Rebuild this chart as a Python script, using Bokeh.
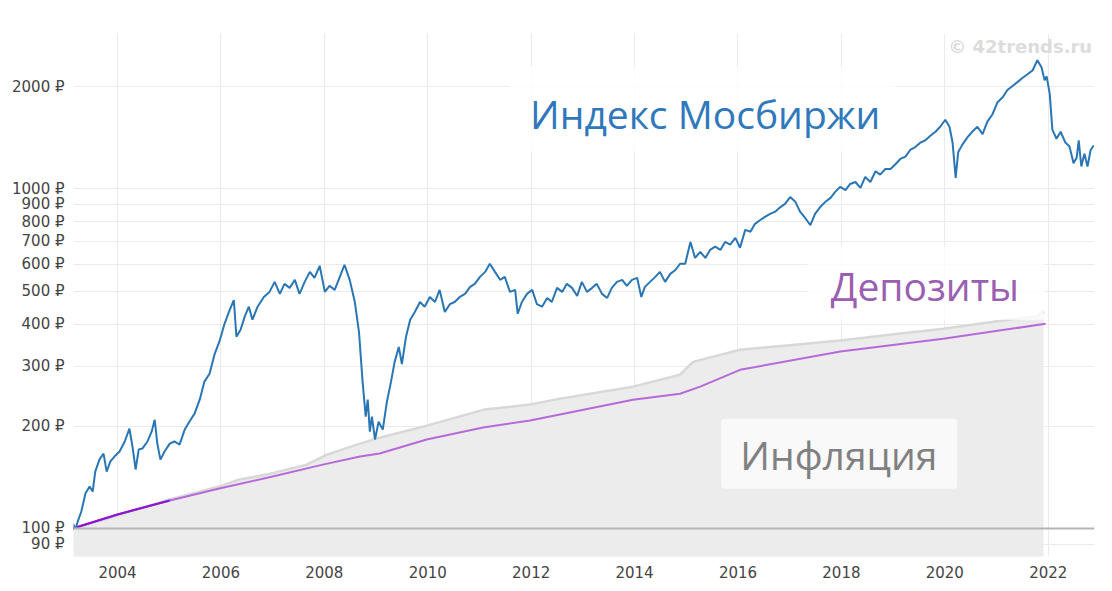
from bokeh.plotting import figure
from bokeh.models import (FixedTicker, CustomJSTickFormatter, Span, BoxAnnotation,
                          Label, Range1d)
from bokeh.embed import file_html
from bokeh.resources import INLINE

# ---- data ----
moex_years = [2003.13, 2003.19, 2003.23, 2003.30, 2003.38, 2003.46, 2003.52, 2003.57, 2003.65, 2003.73,
              2003.79, 2003.86, 2003.94, 2004.04, 2004.14, 2004.23, 2004.29, 2004.35, 2004.41, 2004.48,
              2004.58, 2004.66, 2004.72, 2004.77, 2004.83, 2004.91, 2005.01, 2005.10, 2005.20, 2005.30,
              2005.39, 2005.49, 2005.59, 2005.68, 2005.78, 2005.88, 2005.97, 2006.07, 2006.17, 2006.25,
              2006.30, 2006.38, 2006.46, 2006.54, 2006.61, 2006.71, 2006.83, 2006.94, 2007.04, 2007.14,
              2007.23, 2007.33, 2007.43, 2007.52, 2007.62, 2007.72, 2007.81, 2007.91, 2008.01, 2008.10,
              2008.20, 2008.30, 2008.39, 2008.49, 2008.59, 2008.67, 2008.74, 2008.80, 2008.84, 2008.88,
              2008.92, 2008.98, 2009.05, 2009.13, 2009.21, 2009.29, 2009.36, 2009.44, 2009.50, 2009.58,
              2009.66, 2009.75, 2009.85, 2009.94, 2010.04, 2010.14, 2010.23, 2010.33, 2010.43, 2010.52,
              2010.62, 2010.72, 2010.82, 2010.91, 2011.01, 2011.11, 2011.20, 2011.30, 2011.40, 2011.49,
              2011.59, 2011.69, 2011.74, 2011.82, 2011.92, 2012.02, 2012.11, 2012.21, 2012.31, 2012.40,
              2012.50, 2012.60, 2012.69, 2012.79, 2012.89, 2012.98, 2013.08, 2013.18, 2013.27, 2013.37,
              2013.47, 2013.56, 2013.66, 2013.76, 2013.85, 2013.95, 2014.05, 2014.13, 2014.20, 2014.30,
              2014.40, 2014.49, 2014.59, 2014.69, 2014.79, 2014.88, 2014.98, 2015.08, 2015.17, 2015.27,
              2015.37, 2015.46, 2015.56, 2015.66, 2015.75, 2015.85, 2015.95, 2016.04, 2016.14, 2016.24,
              2016.33, 2016.43, 2016.53, 2016.62, 2016.72, 2016.82, 2016.91, 2017.01, 2017.11, 2017.20,
              2017.30, 2017.40, 2017.49, 2017.59, 2017.69, 2017.79, 2017.88, 2017.98, 2018.08, 2018.17,
              2018.27, 2018.37, 2018.46, 2018.56, 2018.66, 2018.75, 2018.85, 2018.95, 2019.04, 2019.14,
              2019.24, 2019.33, 2019.43, 2019.53, 2019.62, 2019.72, 2019.82, 2019.91, 2020.01, 2020.09,
              2020.15, 2020.21, 2020.26, 2020.34, 2020.44, 2020.53, 2020.63, 2020.73, 2020.82, 2020.92,
              2021.02, 2021.12, 2021.21, 2021.31, 2021.41, 2021.50, 2021.60, 2021.70, 2021.79, 2021.87,
              2021.93, 2021.97, 2022.03, 2022.08, 2022.16, 2022.24, 2022.33, 2022.41, 2022.49, 2022.55,
              2022.59, 2022.64, 2022.70, 2022.76, 2022.82, 2022.88]
moex_values = [103.4, 100.0, 104.8, 112.2, 126.8, 132.9, 128.5, 147.1, 159.5, 166.2,
               147.1, 157.3, 162.9, 168.5, 180.4, 196.8, 174.3, 149.2, 170.8, 171.9,
               180.4, 192.8, 209.0, 177.8, 159.5, 168.5, 177.8, 180.4, 176.6, 195.5,
               206.3, 217.9, 239.5, 270.6, 285.6, 326.9, 354.8, 400.6, 440.2, 470.7,
               367.0, 384.9, 420.6, 449.8, 412.0, 449.8, 480.6, 497.4, 532.4, 490.7,
               525.2, 511.2, 539.8, 490.7, 532.4, 569.6, 547.2, 593.7, 497.4, 518.3,
               504.3, 550.6, 597.9, 539.8, 464.4, 379.5, 270.6, 213.4, 239.5, 192.8,
               213.4, 182.9, 206.3, 195.5, 236.1, 270.6, 309.5, 342.5, 305.0, 367.0,
               412.0, 434.0, 464.4, 449.8, 480.6, 464.4, 504.3, 434.0, 458.0, 464.4,
               480.6, 490.7, 514.7, 525.2, 550.6, 569.6, 602.0, 569.6, 539.8, 550.6,
               497.4, 504.3, 428.8, 464.4, 490.7, 504.3, 458.0, 449.8, 477.4, 464.4,
               511.2, 497.4, 525.2, 511.2, 484.0, 532.4, 497.4, 511.2, 525.2, 490.7,
               477.4, 511.2, 532.4, 539.8, 518.3, 539.8, 547.2, 480.6, 514.7, 532.4,
               550.6, 569.6, 532.4, 562.0, 576.9, 602.0, 602.0, 698.0, 626.0, 652.4,
               626.0, 661.3, 676.0, 661.3, 698.0, 685.0, 717.5, 671.0, 757.5, 748.0,
               789.0, 810.0, 829.0, 844.0, 857.0, 884.0, 903.0, 946.0, 916.0, 857.0,
               821.0, 782.0, 844.0, 884.0, 916.0, 941.0, 980.0, 1014.0, 992.0, 1034.0,
               1048.0, 1007.0, 1085.0, 1048.0, 1127.0, 1102.0, 1144.0, 1144.0, 1180.0, 1225.0,
               1245.0, 1302.0, 1328.0, 1370.0, 1389.0, 1433.0, 1473.0, 1524.0, 1598.0, 1524.0,
               1370.0, 1077.0, 1285.0, 1350.0, 1420.0, 1473.0, 1524.0, 1450.0, 1575.0, 1656.0,
               1800.0, 1862.0, 1955.0, 2010.0, 2066.0, 2120.0, 2176.0, 2236.0, 2394.0, 2281.0,
               2090.0, 2145.0, 1902.0, 1495.0, 1405.0, 1473.0, 1370.0, 1336.0, 1190.0, 1235.0,
               1389.0, 1164.0, 1270.0, 1164.0, 1302.0, 1342.0]

inflation_years = [2003.13, 2004.00, 2004.43, 2005.01, 2005.97, 2006.36, 2006.88, 2007.66, 2008.05,
                   2008.63, 2009.07, 2009.98, 2011.09, 2011.98, 2012.56, 2013.97, 2014.88, 2015.13,
                   2016.04, 2017.98, 2019.14, 2019.97, 2021.08, 2021.81, 2021.89, 2021.91]
inflation_values = [100.0, 109.2, 114.5, 121.7, 132.9, 139.4, 144.1, 154.2, 165.0,
                    176.6, 185.1, 200.8, 223.9, 231.8, 241.2, 261.6, 283.6, 309.5,
                    336.1, 357.5, 374.9, 387.5, 409.0, 422.7, 437.6, 428.8]

deposit_years = [2003.13, 2004.00, 2004.43, 2005.01, 2005.97, 2007.00, 2007.97, 2008.69, 2009.07,
                 2009.98, 2011.07, 2011.98, 2013.97, 2014.88, 2015.27, 2016.04, 2017.98, 2019.97,
                 2021.95]
deposit_values = [100.0, 109.9, 114.5, 120.9, 131.1, 142.2, 154.2, 162.9, 166.2,
                  182.9, 198.2, 207.9, 239.5, 249.4, 261.6, 293.2, 331.8, 362.1, 400.6]

y_ticks = [90, 100, 200, 300, 400, 500, 600, 700, 800, 900, 1000, 2000]
x_ticks = [2004, 2006, 2008, 2010, 2012, 2014, 2016, 2018, 2020, 2022]

# ---- figure ----
p = figure(width=1104, height=583, y_axis_type="log",
           x_range=Range1d(2003.149, 2022.895), y_range=Range1d(82.7, 2868),
           output_backend="svg", toolbar_location=None,
           min_border_left=73, min_border_right=10, min_border_top=33, min_border_bottom=27)
p.outline_line_color = None
p.background_fill_color = "white"
p.border_fill_color = "white"

for ax in (p.xaxis[0], p.yaxis[0]):
    ax.axis_line_color = None
    ax.major_tick_line_color = None
    ax.minor_tick_line_color = None
    ax.major_label_text_color = "#444444"
    ax.major_label_text_font = "DejaVu Sans"
    ax.major_label_text_font_size = "15px"

p.yaxis[0].ticker = FixedTicker(ticks=y_ticks)
p.yaxis[0].formatter = CustomJSTickFormatter(code="return Math.round(tick) + ' \u20bd';")
p.yaxis[0].major_label_standoff = 3
p.xaxis[0].ticker = FixedTicker(ticks=x_ticks)
p.xaxis[0].formatter = CustomJSTickFormatter(code="return Math.round(tick).toString();")
p.xaxis[0].major_label_standoff = 3

p.xgrid.ticker = FixedTicker(ticks=x_ticks)
p.ygrid.ticker = FixedTicker(ticks=y_ticks)
p.xgrid.grid_line_color = "#ebebeb"
p.ygrid.grid_line_color = "#ebebeb"

# inflation area
p.varea(x=inflation_years, y1=[1.0] * len(inflation_years), y2=inflation_values,
        fill_color="#ececec")
p.line(inflation_years, inflation_values, line_color="#d8d8d8", line_width=2.5)

# deposits
n_dark = 4
p.line(deposit_years, deposit_values, line_color="#b66ad9", line_width=2)
p.line(deposit_years[:n_dark], deposit_values[:n_dark], line_color="#8a14d0", line_width=2.2)

# base line 100
p.add_layout(Span(location=100, dimension="width", line_color="#b5b5b5", line_width=2))

# MOEX index
p.line(moex_years, moex_values, line_color="#2a76b4", line_width=2)

# annotation boxes
p.add_layout(BoxAnnotation(left=2011.59, right=2019.04, bottom=1288, top=2293,
                           fill_color="white", fill_alpha=0.85, line_color=None))
p.add_layout(BoxAnnotation(left=2017.34, right=2021.91, bottom=412, top=676,
                           fill_color="white", fill_alpha=0.8, line_color=None))
p.add_layout(BoxAnnotation(left=2015.675, right=2020.24, bottom=130.9, top=210.5,
                           fill_color="white", fill_alpha=0.7, line_color=None,
                           border_radius=4))

p.add_layout(Label(x=2015.365, y=1667, text="Индекс Мосбиржи", text_align="center",
                   text_baseline="middle", text_color="#2f78bc",
                   text_font="Open Sans", text_font_size="39px"))
p.add_layout(Label(x=2019.614, y=519, text="Депозиты", text_align="center",
                   text_baseline="middle", text_color="#9a5fb1",
                   text_font="Open Sans", text_font_size="39px"))
p.add_layout(Label(x=2017.95, y=164.9, text="Инфляция", text_align="center",
                   text_baseline="middle", text_color="#808080",
                   text_font="Open Sans", text_font_size="39px"))
p.add_layout(Label(x=2022.85, y=2625, text="© 42trends.ru", text_align="right",
                   text_baseline="middle", text_color="#dcdcdc",
                   text_font="DejaVu Sans", text_font_style="bold", text_font_size="18px"))

open("out.html", "w").write(file_html(p, INLINE))
